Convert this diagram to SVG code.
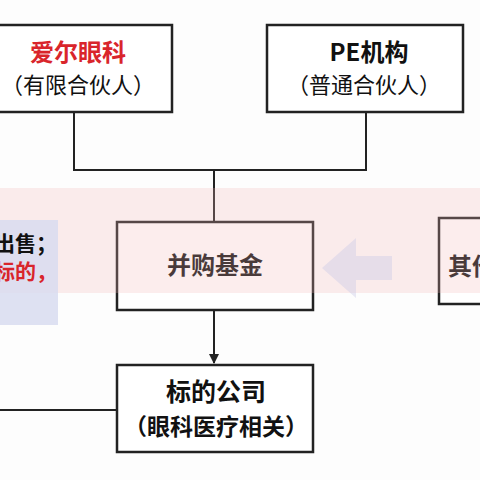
<svg xmlns="http://www.w3.org/2000/svg" width="480" height="480" viewBox="0 0 480 480">
<style>
.box{fill:#ffffff;stroke:#222;stroke-width:2.5}
.t{font-family:"Noto Sans CJK SC","Noto Sans",sans-serif;text-anchor:middle;fill:#111}
.b{font-weight:bold}
.ln{fill:none;stroke:#222;stroke-width:2}
</style>
<defs>
<marker id="ah" viewBox="0 0 10 10" refX="9" refY="5" markerWidth="5" markerHeight="5" orient="auto"><path d="M0,0L10,5L0,10z" fill="#222"/></marker>
</defs>
<rect width="480" height="480" fill="#fdfdfd"/>
<g id="connectors">
<path class="ln" d="M74,112V170H366V112"/>
<path class="ln" d="M214,170V222"/>
<path class="ln" d="M214,310V363" marker-end="url(#ah)"/>
<path class="ln" d="M0,410H117"/>
</g>
<g id="aier">
<rect class="box" x="-20" y="25" width="192" height="87"/>
<text class="t b" x="78" y="61" font-size="24" style="fill:#d9252b">爱尔眼科</text>
<text class="t" x="78" y="93" font-size="22">（有限合伙人）</text>
</g>
<g id="pe">
<rect class="box" x="267" y="25" width="196" height="87"/>
<text class="t b" x="369" y="61" font-size="24">PE机构</text>
<text class="t" x="364" y="93" font-size="22">（普通合伙人）</text>
</g>
<g id="fund">
<rect class="box" x="117" y="222" width="196" height="88"/>
<text class="t b" x="215" y="274" font-size="24">并购基金</text>
</g>
<g id="target">
<rect class="box" x="117" y="365" width="196" height="87"/>
<text class="t b" x="216" y="401" font-size="25">标的公司</text>
<text class="t b" x="216" y="435" font-size="23">（眼科医疗相关）</text>
</g>
<g id="other">
<rect class="box" x="439" y="218" width="60" height="86"/>
<text class="t b" x="496" y="275" font-size="24" style="text-anchor:end">其他</text>
</g>
<g id="band">
<rect x="0" y="188" width="480" height="105" fill="#f2b8b8" opacity="0.25"/>
<path d="M322,268L356,238V256H392V280H356V298Z" fill="#c8c8e6" opacity="0.4"/>
</g>
<g id="side">
<rect x="0" y="220" width="58" height="105" fill="#d8dcf0" opacity="0.85"/>
<text class="t b" x="57" y="251" font-size="21" style="text-anchor:end">出售；</text>
<text class="t b" x="57" y="279" font-size="21" style="text-anchor:end;fill:#d9252b">标的，</text>
</g>
</svg>
